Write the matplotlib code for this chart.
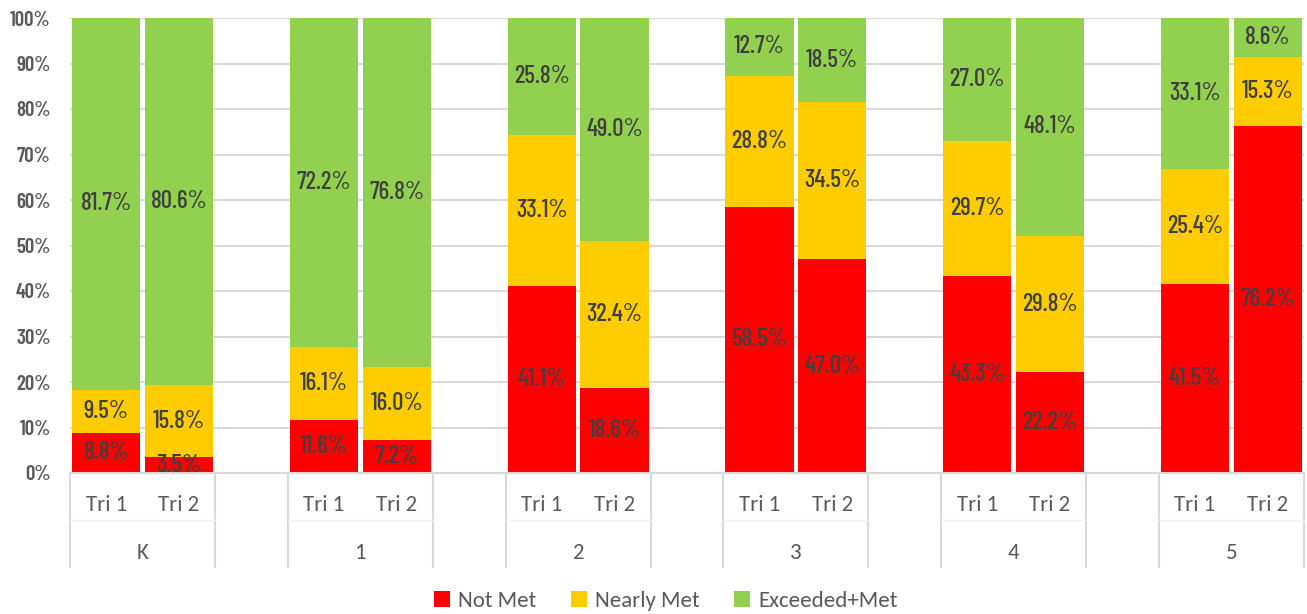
import numpy as np
import matplotlib
matplotlib.use("Agg")
import matplotlib.pyplot as plt
from matplotlib.patches import Patch

# data (percent)
grades = ["K", "1", "2", "3", "4", "5"]
terms = ["Tri 1", "Tri 2"]
not_met = [8.8, 3.5, 11.6, 7.2, 41.1, 18.6, 58.5, 47.0, 43.3, 22.2, 41.5, 76.2]
nearly_met = [9.5, 15.8, 16.1, 16.0, 33.1, 32.4, 28.8, 34.5, 29.7, 29.8, 25.4, 15.3]
exceeded_met = [81.7, 80.6, 72.2, 76.8, 25.8, 49.0, 12.7, 18.5, 27.0, 48.1, 33.1, 8.6]

series_names = ["Not Met", "Nearly Met", "Exceeded+Met"]
series_colors = ["#FF0000", "#FFCC00", "#92D050"]

label_font = ["Barlow Condensed", "Pathway Gothic One", "Roboto Condensed",
              "IBM Plex Sans Condensed", "DejaVu Sans"]
axis_font = ["Carlito", "Lato", "DejaVu Sans"]
grey = "#595959"

fig = plt.figure(figsize=(13.07, 6.14), dpi=100)
ax = fig.add_axes([70 / 1307, 141 / 614, 1234 / 1307, 455 / 614])

# each grade takes two slots plus a blank slot
xpos = []
for g in range(len(grades)):
    xpos += [3 * g + 0.5, 3 * g + 1.5]
xpos = np.array(xpos)

bottom = np.zeros(len(xpos))
for vals, name, col in zip([not_met, nearly_met, exceeded_met], series_names, series_colors):
    vals = np.array(vals)
    ax.bar(xpos, vals, width=0.94, bottom=bottom, color=col, label=name, zorder=2)
    for x, b, v in zip(xpos, bottom, vals):
        ax.text(x, b + v / 2, f"{v:.1f}%", ha="center", va="center",
                fontsize=18, color="#404040", family=label_font,
                fontweight="medium", zorder=3)
    bottom += vals

ax.set_xlim(0, 17)
ax.set_ylim(0, 100)
ax.set_yticks(np.arange(0, 101, 10))
ax.set_yticklabels([f"{t}%" for t in range(0, 101, 10)], family=label_font,
                   fontsize=15, color="#595959", fontweight="semibold")
ax.yaxis.grid(True, color="#d9d9d9", lw=1.5, zorder=0)
ax.set_axisbelow(True)
ax.tick_params(axis="y", length=0, pad=14)
ax.set_xticks([])
for s in ["left", "right", "top"]:
    ax.spines[s].set_visible(False)
ax.spines["bottom"].set_color("#d9d9d9")
ax.spines["bottom"].set_linewidth(1.5)

# two-level category axis
ph = 455.0
trans = ax.get_xaxis_transform()
for x, i in zip(xpos, range(len(xpos))):
    ax.text(x, -32 / ph, terms[i % 2], ha="center", va="center",
            fontsize=16.5, color=grey, family=axis_font, transform=trans)
for g, name in enumerate(grades):
    ax.text(3 * g + 1, -80 / ph, name, ha="center", va="center",
            fontsize=16.5, color=grey, family=axis_font, transform=trans)
for xs in list(range(0, 17, 3)) + list(range(2, 18, 3)):
    ax.plot([xs, xs], [0, -94 / ph], color="#d9d9d9", lw=1.5,
            transform=trans, clip_on=False)
for g in range(len(grades)):
    ax.plot([3 * g, 3 * g + 2], [-47 / ph, -47 / ph], color="#f2f2f2", lw=1,
            transform=trans, clip_on=False)

handles = [Patch(facecolor=c, label=n) for n, c in zip(series_names, series_colors)]
fig.legend(handles=handles, loc="center", bbox_to_anchor=(666 / 1307, 1 - 601 / 614),
           ncol=3, frameon=False, handlelength=0.7, handleheight=0.7,
           handletextpad=0.35, columnspacing=1.5,
           prop={"family": axis_font, "size": 16.5}, labelcolor=grey)

fig.savefig("out.png", dpi=100)
